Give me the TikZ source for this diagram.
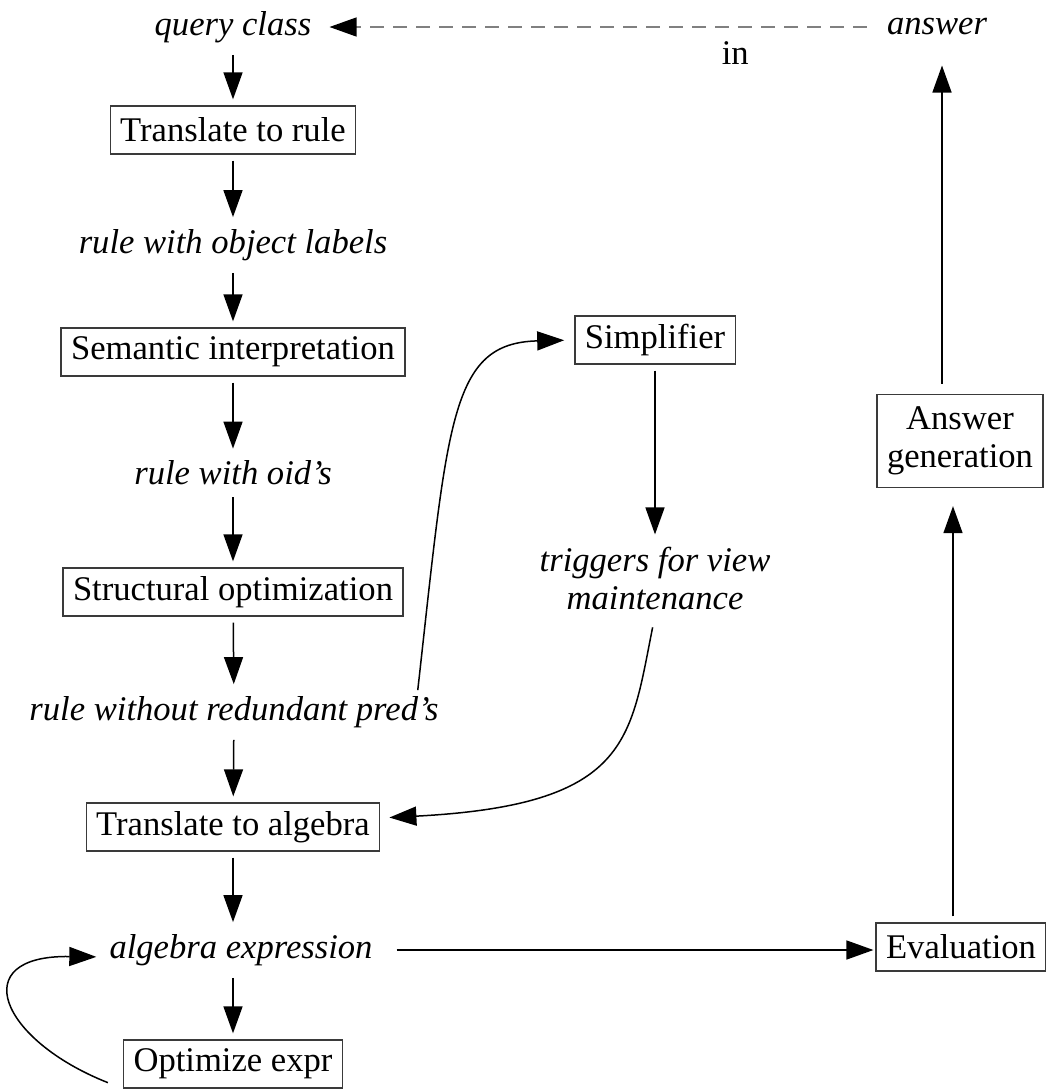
\documentclass[tikz,border=0pt]{standalone}
\usepackage{fontspec}
\setmainfont{Liberation Serif}
\usetikzlibrary{arrows.meta}
\definecolor{boxline}{HTML}{3A3A3A}
\definecolor{dashline}{HTML}{808080}

\begin{document}
\begin{tikzpicture}[x=1pt, y=-1pt,
    every node/.style={font=\fontsize{34.6}{38}\selectfont},
    stage/.style={draw=boxline, line width=1.3pt, inner xsep=10pt, inner ysep=4pt, minimum height=48pt},
    data/.style={font=\fontsize{34.6}{38}\selectfont\itshape, inner xsep=4pt, inner ysep=6pt},
    flow/.style={line width=1.5pt, -{Triangle[length=27pt, width=19pt]}, shorten <=6pt, shorten >=6pt}]

\useasboundingbox (0,0) rectangle (1045,1090);

% left column

\node[data] (qc) at (233,27) {query class};
\node[stage] (tr) at (233,130) {Translate to rule};
\node[data] (rol) at (233,245) {rule with object labels};
\node[stage] (si) at (233,352) {Semantic interpretation};
\node[data] (roid) at (233,473) {rule with oid's};
\node[stage] (so) at (233,592) {Structural optimization};
\node[data] (rwr) at (234,712) {rule without redundant pred's};
\node[stage] (ta) at (233,827) {Translate to algebra};
\node[data] (ae) at (241,950) {algebra expression};
\node[stage] (oe) at (233,1064) {Optimize expr};

% middle column

\node[stage] (simp) at (655,340) {Simplifier};
\node[data, align=center] (tfv) at (655,578) {triggers for view\\maintenance};

% right column

\node[stage] (ev) at (961,947) {Evaluation};
\node[stage, align=center, minimum height=93pt] (ag) at (960,441) {Answer\\generation};
\node[data] (ans) at (937,27) {answer};

% edges

\draw[flow] (qc) -- (tr);
\draw[flow] (tr) -- (rol);
\draw[flow] (rol) -- (si);
\draw[flow] (si) -- (roid);
\draw[flow] (roid) -- (so);
\draw[flow] (so) -- (rwr);
\draw[flow] (rwr) -- (ta);
\draw[flow] (ta.south) -- (ta.south |- ae.north);
\draw[flow] (ae.south -| oe.north) -- (oe.north);

\draw[flow, shorten <=20pt, shorten >=2pt] (ae.east) -- (ae.east -| ev.west);
\draw[flow, shorten >=18pt] ([xshift=-8pt]ev.north) -- ([xshift=-8pt]ev.north |- ag.south);
\draw[flow, shorten <=10pt, shorten >=24pt] ([xshift=-18pt]ag.north) -- ([xshift=-18pt]ag.north |- ans.south);
\draw[flow] (simp) -- (tfv);

\draw[dashline, line width=1.3pt, dash pattern=on 14pt off 9pt,
      -{Triangle[length=27pt, width=19pt, color=black]}, shorten <=16pt, shorten >=14pt]
  (ans.west) -- (qc.east) node[pos=0.26, text=black, inner sep=2pt, anchor=north, yshift=-12pt] {in};

% curved edges

\draw[flow, shorten <=0pt, shorten >=10pt] ([xshift=-25pt]rwr.north east) .. controls (448,420) and (450,343) .. (simp.west);
\draw[flow, shorten <=12pt, shorten >=9pt] (tfv.south) .. controls (630,740) and (630,805) .. ([yshift=9pt]ta.east);
\draw[flow, shorten <=0pt, shorten >=9pt] ([xshift=-15pt, yshift=6pt]oe.south west) .. controls (0,1040) and (-35,955) .. ([yshift=-7pt]ae.west);

\end{tikzpicture}
\end{document}
